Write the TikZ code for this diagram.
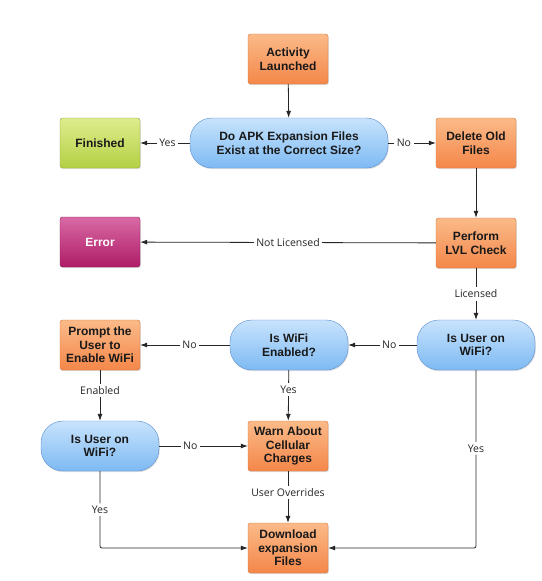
\documentclass[tikz,border=0pt]{standalone}
\usepackage{fontspec}
\setmainfont{Liberation Sans}
\newfontfamily\lblfont{Open Sans}
\usetikzlibrary{arrows.meta,shadows}
\definecolor{orT}{HTML}{FBBA88}
\definecolor{orB}{HTML}{F4874A}
\definecolor{orD}{HTML}{D2733A}
\definecolor{blT}{HTML}{C8E3FC}
\definecolor{blB}{HTML}{7DBAF3}
\definecolor{blD}{HTML}{5A8DD3}
\definecolor{grT}{HTML}{DEEC8E}
\definecolor{grB}{HTML}{B3D043}
\definecolor{grD}{HTML}{8BA63A}
\definecolor{mgT}{HTML}{D96AA6}
\definecolor{mgB}{HTML}{AE1C66}
\definecolor{mgD}{HTML}{8E1A55}
\begin{document}
\begin{tikzpicture}[x=1pt,y=-1pt,
  box/.style={rectangle, rounded corners=2.5pt, minimum width=80pt, minimum height=50pt,
    align=center, inner sep=1pt, font=\bfseries\fontsize{12}{13.5}\selectfont, text=black!90,
    drop shadow={shadow xshift=0.8pt, shadow yshift=-1.2pt, opacity=0.25}},
  proc/.style={box, draw=orD, top color=orT, bottom color=orB},
  fin/.style={box, draw=grD, top color=grT, bottom color=grB},
  err/.style={box, draw=mgD, top color=mgT, bottom color=mgB, text=white},
  dec/.style={box, rounded corners=22pt, draw=blD, top color=blT, bottom color=blB, minimum width=118pt},
  arr/.style={draw=black!85, line width=0.8pt, -{Latex[length=7pt,width=5pt]}},
  lbl/.style={fill=white, inner sep=2.5pt, font=\lblfont\fontsize{10.5}{12.5}\selectfont, text=black!85}
]
\useasboundingbox (0,0) rectangle (541,581);
\fill[white] (0,0) rectangle (541,581);

\node[proc] (act) at (288,59) {Activity\\Launched};
\node[dec, minimum width=198pt] (d1) at (289,143) {Do APK Expansion Files\\Exist at the Correct Size?};
\node[proc] (del) at (476,143) {Delete Old\\Files};
\node[fin] (fin) at (100,143) {Finished};
\node[err] (err) at (100,242) {Error};
\node[proc] (lvl) at (476,243) {Perform\\LVL Check};
\node[dec] (w1) at (476,345) {Is User on\\WiFi?};
\node[dec] (we) at (289,345) {Is WiFi\\Enabled?};
\node[proc] (pr) at (100,345) {Prompt the\\User to\\Enable WiFi};
\node[dec] (w2) at (100,446) {Is User on\\WiFi?};
\node[proc] (warn) at (288,446) {Warn About\\Cellular\\Charges};
\node[proc] (dl) at (288,548) {Download\\expansion\\Files};

\draw[arr] (act) -- (d1);
\draw[arr] (d1) -- node[lbl, pos=0.33] {No} (del);
\draw[arr] (d1) -- node[lbl, pos=0.45] {Yes} (fin);
\draw[arr] (del) -- (lvl);
\draw[arr] (lvl) -- node[lbl] {Not Licensed} (err);
\draw[arr] (lvl) -- node[lbl] {Licensed} (w1);
\draw[arr] (w1) -- node[lbl, pos=0.4] {No} (we);
\draw[arr] (we) -- node[lbl, pos=0.45] {No} (pr);
\draw[arr] (pr) -- node[lbl, pos=0.4] {Enabled} (w2);
\draw[arr] (we) -- node[lbl, pos=0.38] {Yes} (warn);
\draw[arr] (w2) -- node[lbl, pos=0.35] {No} (warn);
\draw[arr] (warn) -- node[lbl, pos=0.42] {User Overrides} (dl);
\draw[arr, rounded corners=2pt] (w2) |- node[lbl, pos=0.25] {Yes} (dl);
\draw[arr, rounded corners=2pt] (w1) |- node[lbl, pos=0.22] {Yes} (dl);
\end{tikzpicture}
\end{document}
